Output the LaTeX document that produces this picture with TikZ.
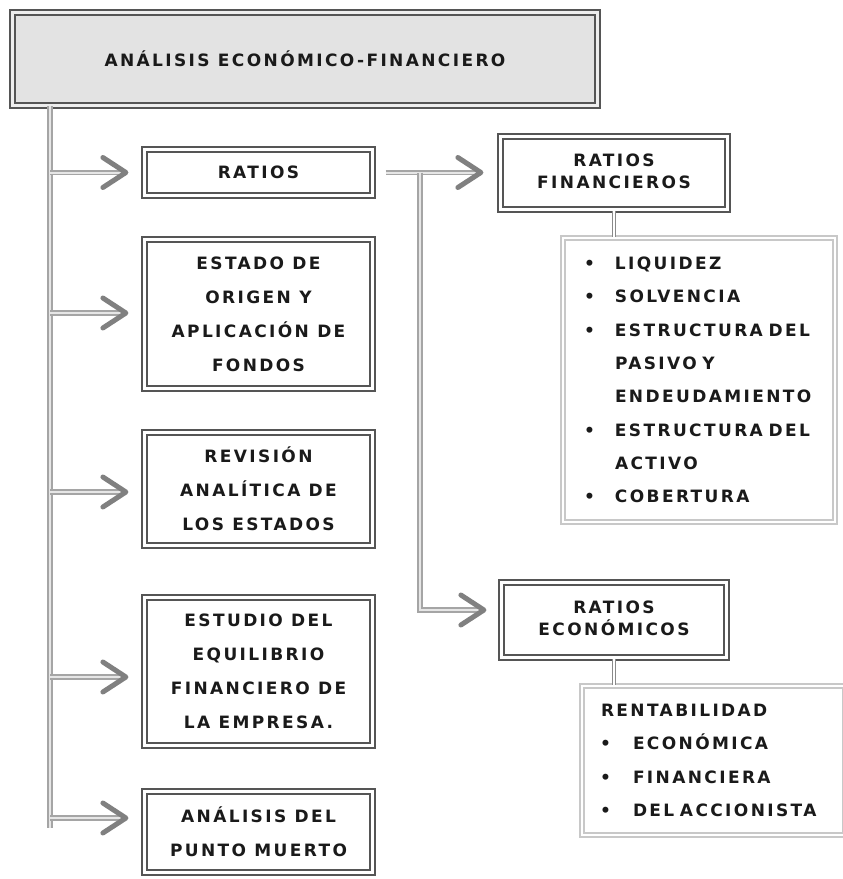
\documentclass[tikz,border=0pt]{standalone}
\usepackage{fontspec}
\newfontfamily\vf[LetterSpace=14]{DejaVu Sans}
\definecolor{boxc}{HTML}{555555}
\definecolor{titlefill}{HTML}{E3E3E3}
\definecolor{connc}{HTML}{A5A5A5}
\definecolor{conninner}{HTML}{E6E6E6}
\definecolor{chevc}{HTML}{808080}
\definecolor{listc}{HTML}{C8C8C8}
\definecolor{vconnc}{HTML}{8A8A8A}
\definecolor{txt}{HTML}{1A1A1A}
\newcommand\chevtip[1]{\draw[chev] ([shift={(-23pt,15pt)}]#1) -- (#1) -- ([shift={(-23pt,-15pt)}]#1);}
\newcommand\bul[1]{\makebox[#1][l]{•}}
\newcommand\uplines[2]{\raisebox{4pt}{\begin{tabular}{@{}c@{}}#1\\#2\end{tabular}}}
\begin{document}
\begin{tikzpicture}[x=1pt,y=-1pt,
  box/.style={draw=boxc, double=white, line width=2.2pt, double distance=3.5pt,
    inner sep=0pt, align=center, text=txt, font=\vf\bfseries\fontsize{17}{34}\selectfont},
  smallbox/.style={box, font=\vf\bfseries\fontsize{17}{22}\selectfont},
  listbox/.style={draw=listc, double=white, line width=1.5pt, double distance=2.5pt,
    inner ysep=0pt, align=left, text=txt, font=\vf\bfseries\fontsize{17}{33.3}\selectfont},
  conn/.style={draw=connc, double=conninner, line width=1.8pt, double distance=2pt},
  vconn/.style={draw=vconnc, double=white, line width=1.6pt, double distance=1.6pt},
  chev/.style={draw=chevc, line width=5pt, line cap=round, line join=round}]
\useasboundingbox[fill=white] (0,0) rectangle (843,879);

% nodes
\node[box, fill=titlefill, double=titlefill!60!white, minimum width=585pt, minimum height=93pt] (T) at (305,59) {ANÁLISIS ECONÓMICO-FINANCIERO};
\node[box, minimum width=228pt, minimum height=46pt] (rat) at (258.5,172.5) {RATIOS};
\node[box, minimum width=228pt, minimum height=149pt] (eoaf) at (258.5,314) {ESTADO DE\\ORIGEN Y\\APLICACIÓN DE\\FONDOS};
\node[box, minimum width=228pt, minimum height=113pt] (rev) at (258.5,489) {REVISIÓN\\ANALÍTICA DE\\LOS ESTADOS};
\node[box, minimum width=228pt, minimum height=148pt] (equ) at (258.5,671.5) {ESTUDIO DEL\\EQUILIBRIO\\FINANCIERO DE\\LA EMPRESA.};
\node[box, minimum width=228pt, minimum height=81pt] (pm) at (258.5,832) {ANÁLISIS DEL\\PUNTO MUERTO};
\node[smallbox, minimum width=227pt, minimum height=73pt] (RF) at (614,173) {\uplines{RATIOS}{FINANCIEROS}};
\node[smallbox, minimum width=225pt, minimum height=75pt] (RE) at (614,620) {\uplines{RATIOS}{ECONÓMICOS}};
\node[listbox, minimum width=272pt, minimum height=284pt, inner xsep=21pt, text width=230pt] (L1) at (699,380)
  {\mbox{\bul{31pt}LIQUIDEZ}\\\mbox{\bul{31pt}SOLVENCIA}\\\mbox{\bul{31pt}ESTRUCTURA DEL}\\\mbox{\hspace*{31pt}PASIVO Y}\\\mbox{\hspace*{31pt}ENDEUDAMIENTO}\\\mbox{\bul{31pt}ESTRUCTURA DEL}\\\mbox{\hspace*{31pt}ACTIVO}\\\mbox{\bul{31pt}COBERTURA}};
\node[listbox, minimum width=263pt, minimum height=149pt, inner xsep=18pt, text width=227pt] (L2) at (713.5,760.5)
  {\mbox{\hspace*{1pt}RENTABILIDAD}\\\mbox{\bul{33pt}ECONÓMICA}\\\mbox{\bul{33pt}FINANCIERA}\\\mbox{\bul{33pt}DEL ACCIONISTA}};

% trunk
\coordinate (t0) at (50,106);
\coordinate (t1) at (50,828);
\draw[conn] (t0) -- (t1);

% branch tips
\coordinate (a1) at ([xshift=-17.5pt,yshift=0pt]rat.west);
\coordinate (a2) at ([xshift=-17.5pt,yshift=1pt]eoaf.west);
\coordinate (a3) at ([xshift=-17.5pt,yshift=-3pt]rev.west);
\coordinate (a4) at ([xshift=-17.5pt,yshift=-5.5pt]equ.west);
\coordinate (a5) at ([xshift=-17.5pt,yshift=14pt]pm.west);
\foreach \a in {a1,a2,a3,a4,a5}{
  \draw[conn] (\a -| t0) -- ([xshift=-4pt]\a);
}
\foreach \a in {a1,a2,a3,a4,a5}{\chevtip{\a}}

% ratios to sub-ratios
\coordinate (b0) at ([xshift=-18.5pt]RF.west);
\coordinate (b1) at (b0 |- rat.east);
\coordinate (b2) at ([xshift=-16.5pt,yshift=10pt]RE.west);
\coordinate (j) at (420,0);
\draw[conn] ([xshift=12pt]rat.east) -- ([xshift=-4pt]b1);
\draw[conn] (j |- rat.east) |- ([xshift=-4pt]b2);
\chevtip{b1}
\chevtip{b2}

% to lists
\draw[vconn] (RF.south) -- (RF.south |- L1.north);
\draw[vconn] (RE.south) -- (RE.south |- L2.north);
\end{tikzpicture}
\end{document}
